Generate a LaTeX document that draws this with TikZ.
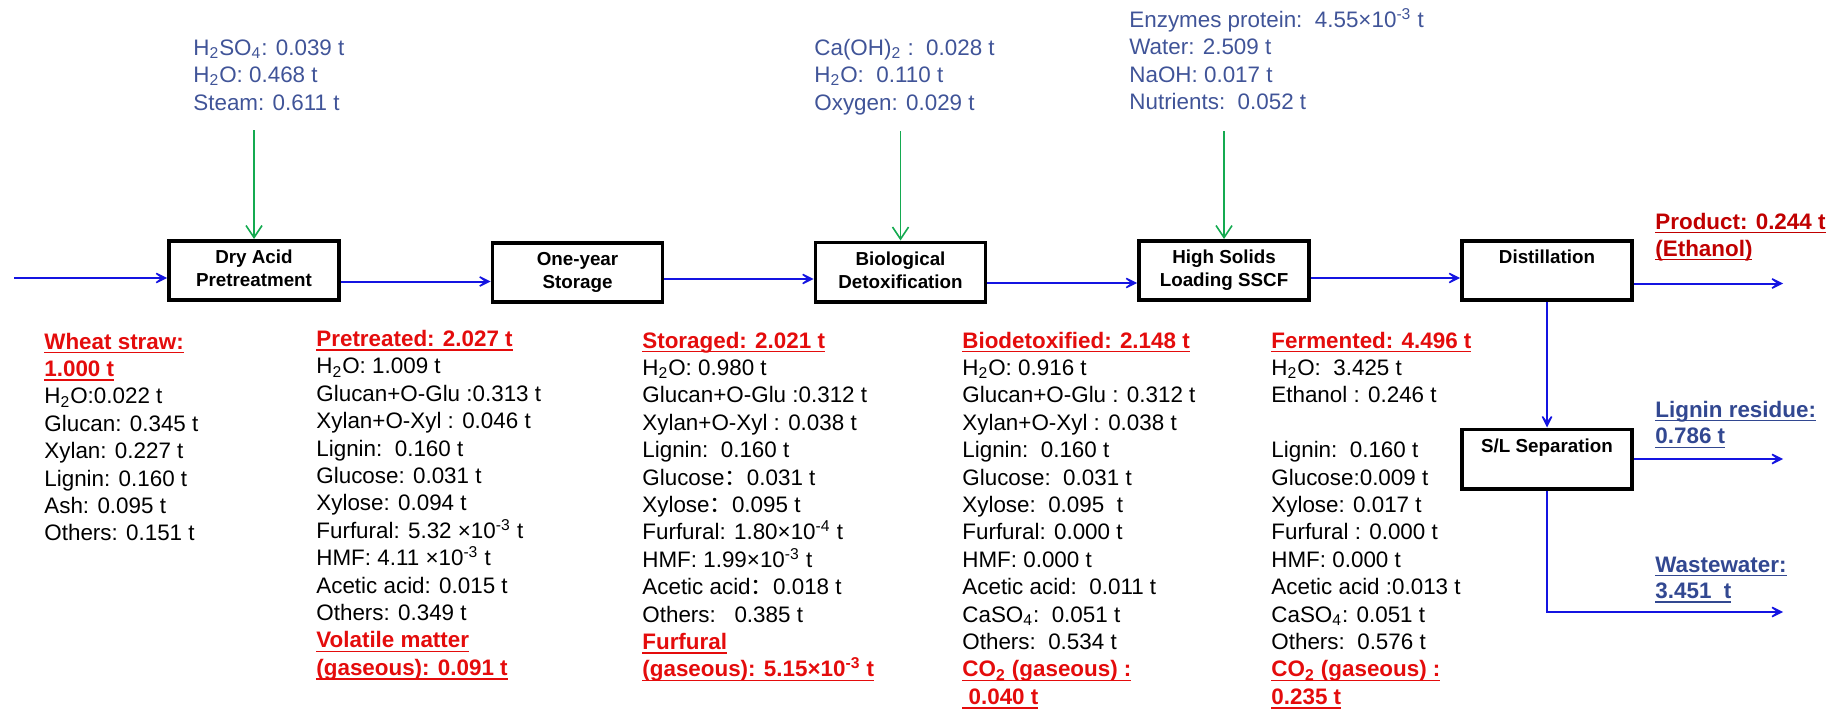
\documentclass[tikz,border=0pt]{standalone}
\usepackage{fontspec}
\setmainfont{Liberation Sans}
\newfontfamily\cjk{Noto Sans CJK SC}
\usetikzlibrary{arrows.meta}
\definecolor{topblue}{RGB}{64,84,152}
\definecolor{hdrred}{RGB}{228,12,12}
\definecolor{prodred}{RGB}{192,0,0}
\definecolor{outblue}{RGB}{50,72,145}
\definecolor{flowblue}{RGB}{20,20,225}
\definecolor{feedgreen}{RGB}{20,170,80}
\newcommand\uln[1]{\setbox0\hbox{#1}\rlap{\rule[-2.2pt]{\wd0}{0.75pt}}\box0}
\newcommand\stk[2][13.7pt]{\vtop{\baselineskip=#1\lineskiplimit=-100pt\lineskip=0pt\halign{##\hfil\cr#2\crcr}}}
\newcommand\hd[1]{{\bfseries\color{hdrred}\uln{#1}}}
\newcommand\cc{{\cjk ：}}
\newcommand\sub[1]{\textsubscript{#1}}
\newcommand\sups[1]{\textsuperscript{#1}}
\begin{document}
\begin{tikzpicture}[x=0.5pt,y=-0.5pt,
  proc/.style={draw=black, line width=1.8pt, minimum width=85pt, minimum height=29.7pt,
    inner sep=0pt, align=center, font=\bfseries\fontsize{9.4}{11.5}\selectfont},
  flow/.style={draw=flowblue, line width=1pt, -{Stealth[length=9pt,width=9pt,inset=6pt]}},
  feed/.style={draw=feedgreen, line width=0.8pt, -{Straight Barb[length=6pt,width=8pt]}},
  txt/.style={anchor=base west, inner sep=0pt, font=\fontsize{11.2}{13.7}\selectfont},
  topt/.style={txt, text=topblue},
  outt/.style={txt, font=\bfseries\fontsize{11.2}{13.7}\selectfont}]
\useasboundingbox (0,0) rectangle (1841,712);

% process boxes
\node[proc] (dry)  at (254,270.5)  {Dry Acid\strut\\Pretreatment\strut};
\node[proc] (one)  at (577.5,272.5){One-year\strut\\Storage\strut};
\node[proc] (bio)  at (900.5,272)  {Biological\strut\\Detoxification\strut};
\node[proc] (sscf) at (1224,270.5) {High Solids\strut\\Loading SSCF\strut};
\node[proc] (dist) at (1547,270.5) {Distillation\strut\\\strut};
\node[proc] (sl)   at (1547,459)   {S/L Separation\strut\\\strut};

% free ends
\coordinate (src) at (14,278);
\coordinate (f1) at (254,130);
\coordinate (f2) at (900.5,131);
\coordinate (f3) at (1224,131);
\coordinate (prodend) at (1783,283.5);
\coordinate (lend) at (1783,459);
\coordinate (wend) at (1783,612);

% main flow
\draw[flow] (src) -- (src -| dry.west);
\draw[flow] ([yshift=-5.5pt]dry.east) -- ([yshift=-5.5pt]dry.east -| one.west);
\draw[flow] ([yshift=-3.25pt]one.east) -- ([yshift=-3.25pt]one.east -| bio.west);
\draw[flow] ([yshift=-5.5pt]bio.east) -- ([yshift=-5.5pt]bio.east -| sscf.west);
\draw[flow] ([yshift=-3.75pt]sscf.east) -- ([yshift=-3.75pt]sscf.east -| dist.west);
\draw[flow] (prodend -| dist.east) -- (prodend);
\draw[flow] (dist.south) -- (sl.north);
\draw[flow] (sl.east) -- (lend);
\draw[flow] (sl.south) |- (wend);

% feeds
\draw[feed] (f1) -- (dry.north);
\draw[feed] (f2) -- (bio.north);
\draw[feed] (f3) -- (sscf.north);

% feed labels
\node[topt] (t1) at (193,55) {\stk[13.75pt]{H\sub{2}SO\sub{4}: 0.039 t\cr H\sub{2}O: 0.468 t\cr Steam: 0.611 t}};
\node[topt] (t2) at (814,55) {\stk[13.75pt]{Ca(OH)\sub{2} :\ \ 0.028 t\cr H\sub{2}O:\ \ 0.110 t\cr Oxygen: 0.029 t}};
\node[topt] (t3) at (1129,27) {\stk[13.8pt]{Enzymes protein:\ \ 4.55×10\sups{-3} t\cr Water: 2.509 t\cr NaOH: 0.017 t\cr Nutrients:\ \ 0.052 t}};

% stream compositions
\node[txt] (s0) at (44,349) {\stk{\hd{Wheat straw:}\cr \hd{1.000 t}\cr H\sub{2}O:0.022 t\cr Glucan: 0.345 t\cr Xylan: 0.227 t\cr Lignin: 0.160 t\cr Ash: 0.095 t\cr Others: 0.151 t}};

\node[txt] (s1) at (316,346.5) {\stk{\hd{Pretreated: 2.027 t}\cr H\sub{2}O: 1.009 t\cr Glucan+O-Glu :0.313 t\cr Xylan+O-Xyl : 0.046 t\cr Lignin:\ \ 0.160 t\cr Glucose: 0.031 t\cr Xylose: 0.094 t\cr Furfural: 5.32 ×10\sups{-3} t\cr HMF: 4.11 ×10\sups{-3} t\cr Acetic acid: 0.015 t\cr Others: 0.349 t\cr \hd{Volatile matter}\cr \hd{(gaseous): 0.091 t}}};

\node[txt] (s2) at (642,348) {\stk{\hd{Storaged: 2.021 t}\cr H\sub{2}O: 0.980 t\cr Glucan+O-Glu :0.312 t\cr Xylan+O-Xyl : 0.038 t\cr Lignin:\ \ 0.160 t\cr Glucose\cc 0.031 t\cr Xylose\cc 0.095 t\cr Furfural: 1.80×10\sups{-4} t\cr HMF: 1.99×10\sups{-3} t\cr Acetic acid\cc 0.018 t\cr Others:\ \ \ 0.385 t\cr \hd{Furfural}\cr \hd{(gaseous): 5.15×10\sups{-3} t}}};

\node[txt] (s3) at (962,348) {\stk{\hd{Biodetoxified: 2.148 t}\cr H\sub{2}O: 0.916 t\cr Glucan+O-Glu : 0.312 t\cr Xylan+O-Xyl : 0.038 t\cr Lignin:\ \ 0.160 t\cr Glucose:\ \ 0.031 t\cr Xylose:\ \ 0.095\ \ t\cr Furfural: 0.000 t\cr HMF: 0.000 t\cr Acetic acid:\ \ 0.011 t\cr CaSO\sub{4}:\ \ 0.051 t\cr Others:\ \ 0.534 t\cr \hd{CO\sub{2} (gaseous) :}\cr \hd{\ 0.040 t}}};

\node[txt] (s4) at (1271,348) {\stk{\hd{Fermented: 4.496 t}\cr H\sub{2}O:\ \ 3.425 t\cr Ethanol : 0.246 t\cr \cr Lignin:\ \ 0.160 t\cr Glucose:0.009 t\cr Xylose: 0.017 t\cr Furfural : 0.000 t\cr HMF: 0.000 t\cr Acetic acid :0.013 t\cr CaSO\sub{4}: 0.051 t\cr Others:\ \ 0.576 t\cr \hd{CO\sub{2} (gaseous) :}\cr \hd{0.235 t}}};

% outputs
\node[outt, text=prodred] (o1) at (1655,229) {\stk[13.5pt]{\uln{Product: 0.244 t}\cr \uln{(Ethanol)}}};
\node[outt, text=outblue] (o2) at (1655,417) {\stk[13.4pt]{\uln{Lignin residue:}\cr \uln{0.786 t}}};
\node[outt, text=outblue] (o3) at (1655,572) {\stk[13.2pt]{\uln{Wastewater:}\cr \uln{3.451\ \ t}}};
\end{tikzpicture}
\end{document}
